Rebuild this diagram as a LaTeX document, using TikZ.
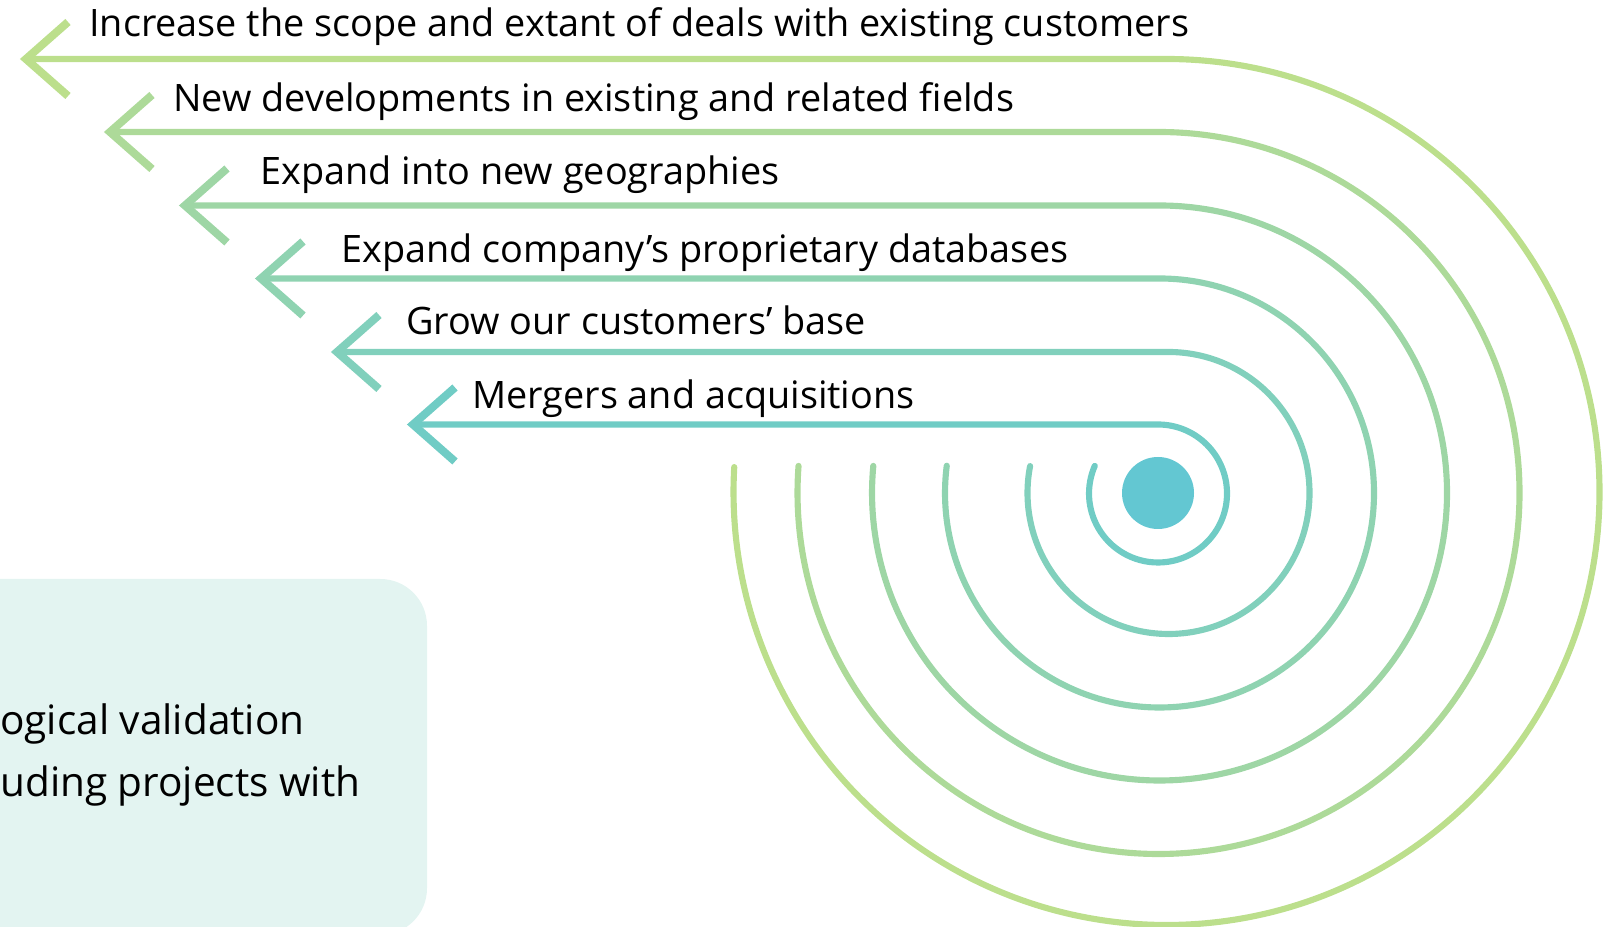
\documentclass[tikz,border=0pt]{standalone}
\usepackage{fontspec}
\setmainfont{Open Sans}
\definecolor{cA}{HTML}{BCDF8C}
\definecolor{cB}{HTML}{ADDA99}
\definecolor{cC}{HTML}{9ED6A5}
\definecolor{cD}{HTML}{8FD3B1}
\definecolor{cE}{HTML}{81D0BC}
\definecolor{cF}{HTML}{70CCC5}
\definecolor{dotc}{HTML}{63C7D2}
\definecolor{boxc}{HTML}{E3F4F1}
\begin{document}
\begin{tikzpicture}[x=0.75pt,y=0.75pt,
  flow/.style={line width=4.6pt, line cap=round},
  chev/.style={line width=6pt, line join=miter, line cap=butt},
  lbl/.style={inner sep=0pt, anchor=base west, font=\fontsize{28.35}{34}\selectfont, text=black},
  boxtxt/.style={inner sep=0pt, anchor=base west, font=\fontsize{30.4}{36}\selectfont, text=black}]
\useasboundingbox (0,0) rectangle (1612,927);
\clip (0,0) rectangle (1612,927);
% box
\fill[boxc, rounded corners=35pt] (-80,-8) rectangle (427,348);
\node[boxtxt] (b1) at (0,192) {ogical validation};
\node[boxtxt] (b2) at (0,130) {uding projects with};
% tips and arc tops
\coordinate (t1) at (22,868);   \coordinate (a1) at (1166.5,868);
\coordinate (t2) at (106,795);  \coordinate (a2) at (1158.5,795);
\coordinate (t3) at (181,721.5);\coordinate (a3) at (1159.5,721.5);
\coordinate (t4) at (257,648.5);\coordinate (a4) at (1159.5,648.5);
\coordinate (t5) at (333,575);  \coordinate (a5) at (1168.5,575);
\coordinate (t6) at (409,502.5);\coordinate (a6) at (1158,502.5);
% flows
\draw[flow, cA] ([xshift=4]t1) -- (a1) arc[start angle=90, end angle=-183.3, radius=433];
\draw[flow, cB] ([xshift=4]t2) -- (a2) arc[start angle=90, end angle=-184.3, radius=361];
\draw[flow, cC] ([xshift=4]t3) -- (a3) arc[start angle=90, end angle=-185.4, radius=287.5];
\draw[flow, cD] ([xshift=4]t4) -- (a4) arc[start angle=90, end angle=-187.3, radius=214.5];
\draw[flow, cE] ([xshift=4]t5) -- (a5) arc[start angle=90, end angle=-191, radius=141];
\draw[flow, cF] ([xshift=4]t6) -- (a6) arc[start angle=90, end angle=-203.6, radius=69];
% chevrons
\foreach \t/\c in {t1/cA,t2/cB,t3/cC,t4/cD,t5/cE,t6/cF}{
  \draw[chev, \c] ([shift={(46,37)}]\t) -- ([shift={(4,0)}]\t) -- ([shift={(46,-37)}]\t);
}
% dot
\fill[dotc] (1158,434) circle[radius=36];
% labels
\node[lbl] (l1) at (89,890) {Increase the scope and extant of deals with existing customers};
\node[lbl] (l2) at (173,815) {New developments in existing and related fields};
\node[lbl] (l3) at (260,742) {Expand into new geographies};
\node[lbl] (l4) at (341,664) {Expand company’s proprietary databases};
\node[lbl] (l5) at (406,592) {Grow our customers’ base};
\node[lbl] (l6) at (472,518) {Mergers and acquisitions};
\end{tikzpicture}
\end{document}
